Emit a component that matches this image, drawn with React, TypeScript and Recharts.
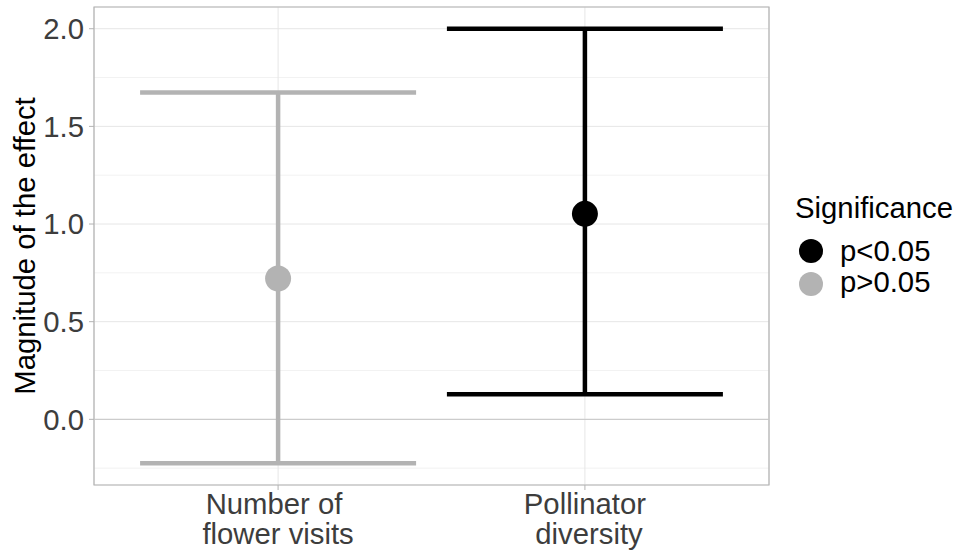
import { ScatterChart, Scatter, XAxis, YAxis, CartesianGrid, ErrorBar, ReferenceLine, ReferenceArea, Legend, Label } from 'recharts';

// effect estimates with 95% intervals
const categories = ['Number of \nflower visits', 'Pollinator\n diversity'];
const effects = [0.721, 1.052];
const lowerCI = [-0.225, 0.128];
const upperCI = [1.673, 2.0];
const significance = ['p>0.05', 'p<0.05'];

const sigLevels = ['p<0.05', 'p>0.05'];
const sigColors: Record<string, string> = { 'p<0.05': '#000000', 'p>0.05': '#b3b3b3' };

const yTicks = [0, 0.5, 1, 1.5, 2];

const FONT = '"Liberation Sans", Arial, sans-serif';
const FS = 29.3;

const points = categories.map((c, i) => ({
    x: i + 1,
    y: effects[i],
    err: [effects[i] - lowerCI[i], upperCI[i] - effects[i]],
    sig: significance[i],
}));

// ggplot-like 5% expansion
const lo = Math.min(...lowerCI);
const hi = Math.max(...upperCI);
const pad = (hi - lo) * 0.05;
const yDomain = [lo - pad, hi + pad];
const minorTicks = yTicks.map(t => t - 0.25).filter(t => t > yDomain[0] && t < yDomain[1]);

function CategoryTick(props: any) {
    const { x, y, payload } = props;
    const lines = String(categories[payload.value - 1] ?? '').split('\n');
    return (
        <g>
            {lines.map((line, i) => (
                <text key={i} x={x} y={y + 22 + i * 30} textAnchor="middle" fontSize={FS} fontFamily={FONT} fill="#3d3d3d" style={{ whiteSpace: 'pre' }}>
                    {line}
                </text>
            ))}
        </g>
    );
}

function SigLegend() {
    return (
        <svg width={168} height={120} style={{ display: 'block' }}>
            <text x={5} y={33} fontSize={FS} fontFamily={FONT} fill="#000">Significance</text>
            {sigLevels.map((s, i) => (
                <g key={s}>
                    <circle cx={21} cy={66 + i * 33} r={12} fill={sigColors[s]} />
                    <text x={50} y={76 + i * 31} fontSize={FS} fontFamily={FONT} fill="#000">{s}</text>
                </g>
            ))}
        </svg>
    );
}

function YTitle(props: any) {
    const vb = props.viewBox;
    const cx = 35;
    const cy = vb.y + vb.height / 2;
    return (
        <text x={cx} y={cy} transform={`rotate(-90, ${cx}, ${cy})`} textAnchor="middle" fontSize={FS} fontFamily={FONT} fill="#000">
            Magnitude of the effect
        </text>
    );
}

export default function App() {
    return (
        <div style={{ position: 'absolute', left: 0, top: 0 }}>
            <ScatterChart
                width={958}
                height={554}
                margin={{ top: 7, right: 189, left: 0, bottom: 0 }}
            >
                <CartesianGrid stroke="#f2f2f2" vertical={false} horizontalValues={minorTicks} />
                <CartesianGrid stroke="#e6e6e6" />
                <ReferenceLine y={0} stroke="#c6c6c6" strokeWidth={1} />
                <ReferenceArea x1={0.4} x2={2.6} y1={yDomain[0]} y2={yDomain[1]} fill="none" stroke="#b3b3b3" strokeWidth={1.2} />
                <XAxis
                    type="number"
                    dataKey="x"
                    domain={[0.4, 2.6]}
                    ticks={[1, 2]}
                    allowDataOverflow
                    height={69}
                    axisLine={false}
                    tickLine={{ stroke: '#b3b3b3' }}
                    tickSize={5}
                    tick={<CategoryTick />}
                    interval={0}
                />
                <YAxis
                    type="number"
                    dataKey="y"
                    domain={yDomain}
                    ticks={yTicks}
                    allowDataOverflow
                    width={94}
                    axisLine={false}
                    tickLine={{ stroke: '#b3b3b3' }}
                    tickSize={5}
                    tickMargin={5}
                    tickFormatter={(v: number) => v.toFixed(1)}
                    tick={{ fontSize: FS, fontFamily: FONT, fill: '#3d3d3d' }}
                >
                    <Label content={<YTitle />} />
                </YAxis>
                <Legend
                    layout="horizontal"
                    align="center"
                    verticalAlign="middle"
                    content={<SigLegend />}
                    wrapperStyle={{ left: 790, top: 185, width: 168, height: 120 }}
                />
                {sigLevels.map(s => (
                    <Scatter
                        key={s}
                        name={s}
                        data={points.filter(p => p.sig === s)}
                        isAnimationActive={false}
                        shape={(p: any) => <circle cx={p.cx} cy={p.cy} r={13} fill={sigColors[s]} />}
                    >
                        <ErrorBar dataKey="err" direction="y" width={138} stroke={sigColors[s]} strokeWidth={4.5} />
                    </Scatter>
                ))}
            </ScatterChart>
        </div>
    );
}
